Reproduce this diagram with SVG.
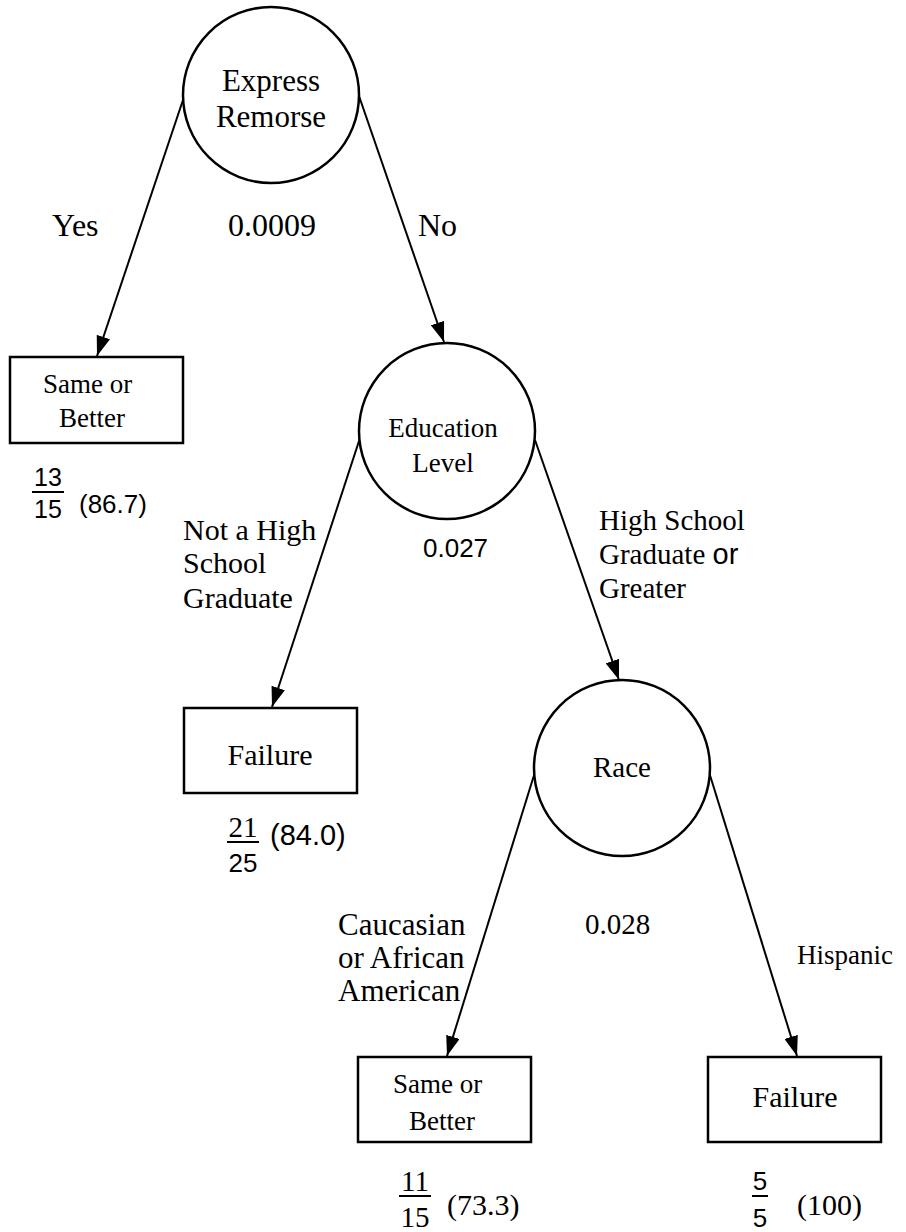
<svg xmlns="http://www.w3.org/2000/svg" width="906" height="1232" viewBox="0 0 906 1232">
  <style>
    .node { fill: #ffffff; stroke: #000000; stroke-width: 2.5; }
    .edge { stroke: #000000; stroke-width: 2; fill: none; marker-end: url(#arrow); }
    .serif { font-family: "Liberation Serif", "Times New Roman", serif; fill: #000000; }
    .sans { font-family: "Liberation Sans", Arial, sans-serif; fill: #000000; }
    .t32 { font-size: 32px; }
    .t31 { font-size: 31px; }
    .t30 { font-size: 30px; }
    .t29 { font-size: 29px; }
    .t27 { font-size: 27px; }
    .t26 { font-size: 26px; }
    .t25 { font-size: 25px; }
    .mid { text-anchor: middle; }
    .bar { stroke: #000000; stroke-width: 2; }
  </style>
  <defs>
    <marker id="arrow" viewBox="0 0 20 14" refX="20" refY="7" markerWidth="20" markerHeight="14" markerUnits="userSpaceOnUse" orient="auto">
      <path d="M0,0 L20,7 L0,14 Z" fill="#000000"/>
    </marker>
  </defs>
  <rect width="906" height="1232" fill="#ffffff"/>

  <!-- connectors -->
  <g id="edges">
    <line class="edge" x1="184" y1="97" x2="97" y2="356"/>
    <line class="edge" x1="359" y1="96" x2="444" y2="342"/>
    <line class="edge" x1="360" y1="438" x2="272" y2="707"/>
    <line class="edge" x1="535" y1="440" x2="619" y2="680"/>
    <line class="edge" x1="535" y1="772" x2="447" y2="1056"/>
    <line class="edge" x1="709" y1="772" x2="797" y2="1056"/>
  </g>

  <!-- decision: Express Remorse -->
  <g id="express-remorse">
    <circle class="node" cx="271" cy="95" r="88"/>
    <text class="serif t31 mid" x="271" y="91">Express</text>
    <text class="serif t31 mid" x="271" y="127">Remorse</text>
  </g>

  <!-- leaf: Same or Better (Yes) -->
  <g id="leaf-yes">
    <rect class="node" x="10" y="357" width="173" height="86"/>
    <text class="serif t27" x="43" y="393">Same or</text>
    <text class="serif t27" x="59" y="427">Better</text>
    <text class="sans t25 mid" x="48" y="486">13</text>
    <line class="bar" x1="32" y1="492" x2="64" y2="492"/>
    <text class="sans t25 mid" x="48" y="518">15</text>
    <text class="sans t26" x="79" y="513">(86.7)</text>
  </g>

  <!-- decision: Education Level -->
  <g id="education-level">
    <circle class="node" cx="447" cy="431" r="88"/>
    <text class="serif t27 mid" x="443" y="437">Education</text>
    <text class="serif t27 mid" x="443" y="472">Level</text>
  </g>

  <!-- leaf: Failure (not a graduate) -->
  <g id="leaf-nongrad">
    <rect class="node" x="184" y="708" width="173" height="85"/>
    <text class="serif t30 mid" x="270" y="765">Failure</text>
    <text class="serif t29 mid" x="243" y="837">21</text>
    <line class="bar" x1="227" y1="842" x2="259" y2="842"/>
    <text class="sans t26 mid" x="243" y="872">25</text>
    <text class="sans t29" x="270" y="845">(84.0)</text>
  </g>

  <!-- decision: Race -->
  <g id="race">
    <circle class="node" cx="622" cy="768" r="88"/>
    <text class="serif t29 mid" x="622" y="777">Race</text>
  </g>

  <!-- leaf: Same or Better (Caucasian or African American) -->
  <g id="leaf-cauc">
    <rect class="node" x="358" y="1057" width="173" height="85"/>
    <text class="serif t27" x="393" y="1093">Same or</text>
    <text class="serif t27" x="409" y="1130">Better</text>
    <text class="serif t29 mid" x="415" y="1191">11</text>
    <line class="bar" x1="399" y1="1196" x2="431" y2="1196"/>
    <text class="serif t29 mid" x="415" y="1227">15</text>
    <text class="serif t30" x="447" y="1215">(73.3)</text>
  </g>

  <!-- leaf: Failure (Hispanic) -->
  <g id="leaf-hisp">
    <rect class="node" x="708" y="1057" width="173" height="85"/>
    <text class="serif t30 mid" x="795" y="1107">Failure</text>
    <text class="sans t26 mid" x="760" y="1190">5</text>
    <line class="bar" x1="752" y1="1196" x2="768" y2="1196"/>
    <text class="sans t26 mid" x="760" y="1227">5</text>
    <text class="serif t30" x="797" y="1215">(100)</text>
  </g>

  <!-- branch labels and p-values -->
  <g id="labels">
    <text class="serif t32" x="52" y="236">Yes</text>
    <text class="serif t32" x="228" y="236">0.0009</text>
    <text class="serif t32" x="418" y="236">No</text>
    <text class="serif t30" x="183" y="540">Not a High</text>
    <text class="serif t30" x="183" y="573">School</text>
    <text class="serif t30" x="183" y="608">Graduate</text>
    <text class="sans t26" x="423" y="557">0.027</text>
    <text class="serif t29" x="599" y="530">High School</text>
    <text class="serif t29" x="599" y="564">Graduate <tspan class="sans">or</tspan></text>
    <text class="serif t29" x="599" y="598">Greater</text>
    <text class="serif t31" x="338" y="935">Caucasian</text>
    <text class="serif t31" x="338" y="968">or African</text>
    <text class="serif t31" x="338" y="1001">American</text>
    <text class="serif t29" x="585" y="934">0.028</text>
    <text class="serif t27" x="797" y="964">Hispanic</text>
  </g>
</svg>
